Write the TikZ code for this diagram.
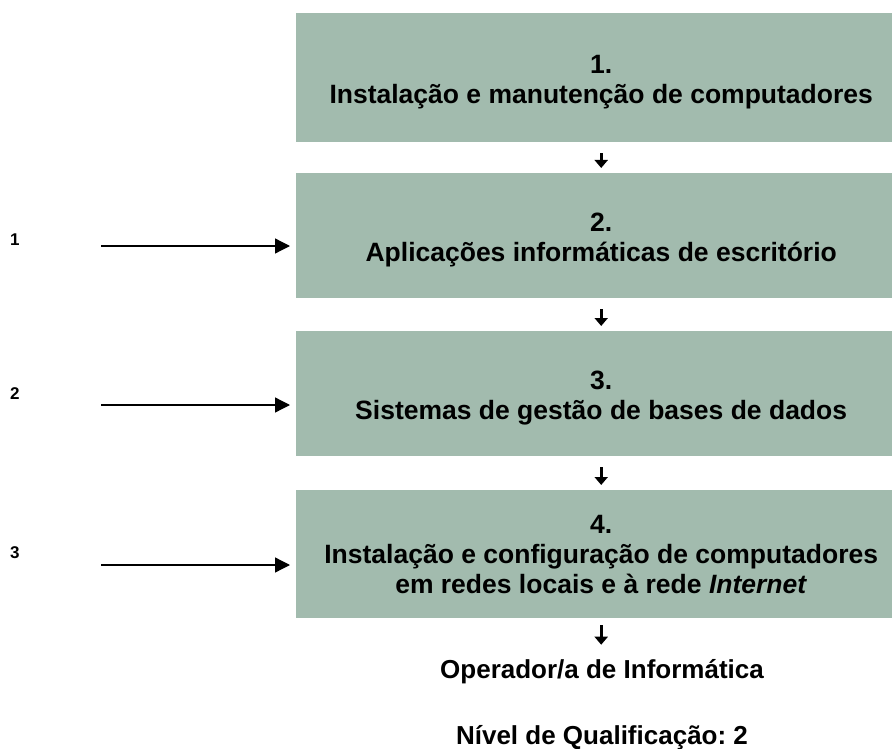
\documentclass[tikz,border=0pt]{standalone}
\usepackage{fontspec}
\setmainfont{Liberation Sans}
\usetikzlibrary{arrows.meta}
\definecolor{boxgreen}{RGB}{162,187,174}
\frenchspacing

\begin{document}
\begin{tikzpicture}[x=1pt,y=-1pt,
	module/.style={fill=boxgreen, anchor=north west, inner sep=0pt, minimum width=610pt, minimum height=#1},
	title/.style={inner sep=0pt, align=center, font=\fontsize{26.5}{30}\selectfont\bfseries},
	nextstep/.style={line width=2.8pt, -{Triangle[length=8pt,width=13pt]}, shorten <=11pt, shorten >=5pt},
	entry/.style={line width=1.3pt, -{Triangle[length=15pt,width=15pt]}, shorten >=6pt},
	level/.style={anchor=base west, inner sep=0pt, font=\fontsize{17}{18}\selectfont\bfseries},
	result/.style={anchor=base, inner sep=0pt, font=\fontsize{26}{30}\selectfont\bfseries}]
	%%%%% START %%%%%
	\path[use as bounding box, clip] (0, 0) rectangle (892, 749);
	
	\node[module=129pt] (m1) at (296, 13) {};
	\node[module=125pt] (m2) at (296, 173) {};
	\node[module=125pt] (m3) at (296, 331) {};
	\node[module=128pt] (m4) at (296, 490) {};
	
	\node[title] (t1) at ([yshift=-4pt]m1.center) {1.\\Instalação e manutenção de computadores};
	\node[title] (t2) at ([yshift=-4pt]m2.center) {2.\\Aplicações informáticas de escritório};
	\node[title] (t3) at ([yshift=-4pt]m3.center) {3.\\Sistemas de gestão de bases de dados};
	\node[title] (t4) at (m4.center) {4.\\Instalação e configuração de computadores\\em redes locais e à rede \textit{Internet}};
	
	\draw[nextstep] (m1) -- (m2);
	\draw[nextstep] (m2) -- (m3);
	\draw[nextstep] (m3) -- (m4);
	
	\node[level] (l1) at (10, 245) {1};
	\node[level] (l2) at (10, 399) {2};
	\node[level] (l3) at (10, 558) {3};
	
	\coordinate (s1) at (101, 246);
	\coordinate (s2) at (101, 405);
	\coordinate (s3) at (101, 565);
	\draw[entry] (s1) -- (s1 -| m2.west);
	\draw[entry] (s2) -- (s2 -| m3.west);
	\draw[entry] (s3) -- (s3 -| m4.west);
	
	\node[result] (job) at (602, 678) {Operador/a de Informática};
	\node[result] (qual) at (602, 744) {Nível de Qualificação: 2};
	\draw[nextstep, shorten <=7pt, shorten >=14pt] (m4.south) -- (m4.south |- job.north);
	%%%%% END %%%%%
\end{tikzpicture}
\end{document}
